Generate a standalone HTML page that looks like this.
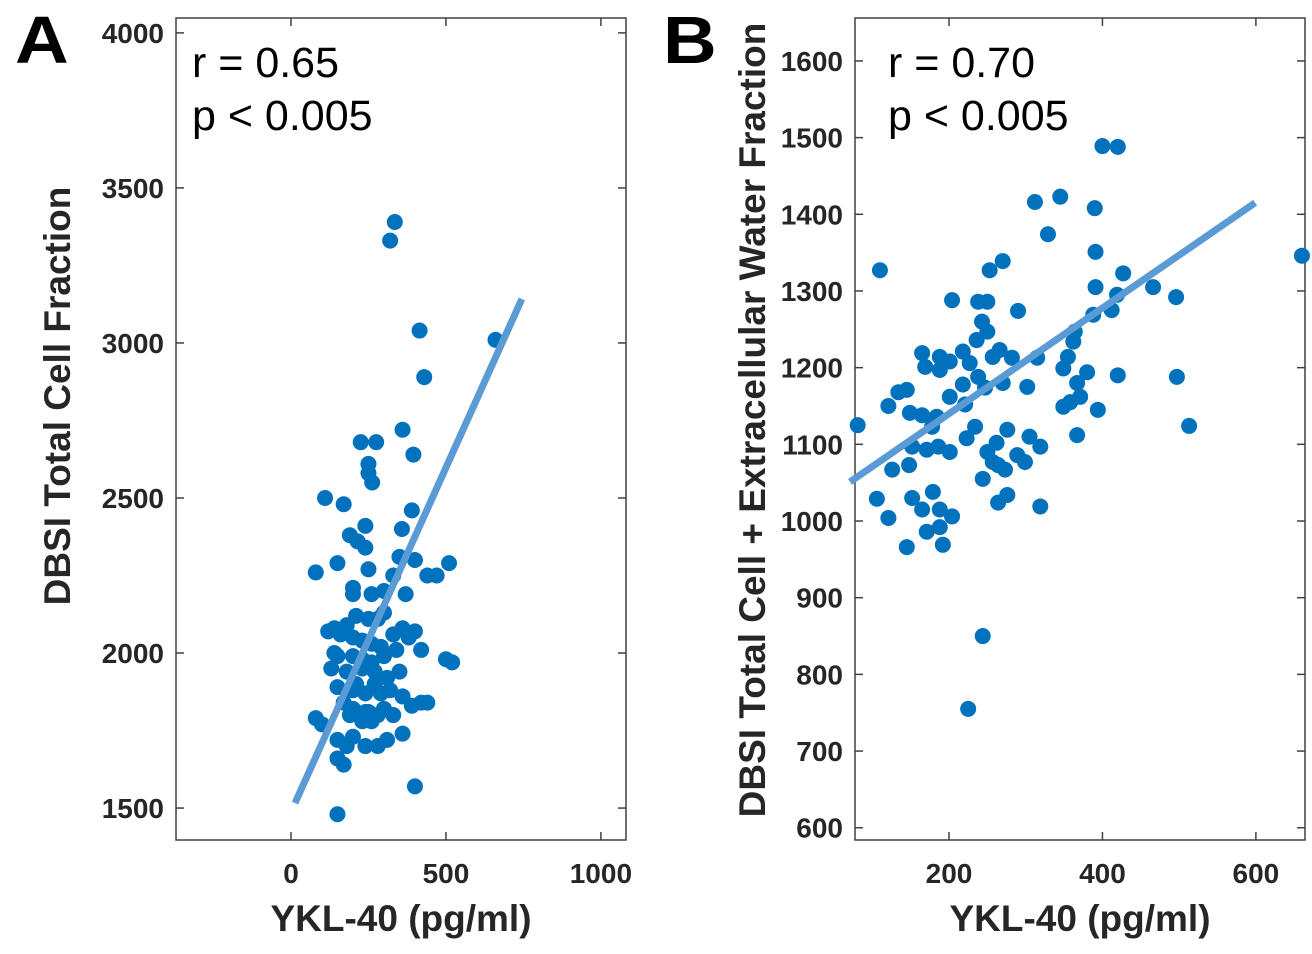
<!DOCTYPE html>
<html><head><meta charset="utf-8"><style>
body{margin:0;background:#fff;width:1312px;height:954px;overflow:hidden}
svg{display:block;font-family:"Liberation Sans",Arial,sans-serif}
</style></head><body>
<svg id="chart" width="1312" height="954" viewBox="0 0 1312 954"></svg>
<script>
const aX=[335,320,415,660,430,360,395,225,275,250,250,262,110,170,390,358,240,215,240,190,350,400,510,80,150,250,330,440,470,370,200,200,260,300,210,250,280,300,120,140,160,180,200,230,260,290,330,360,380,400,140,150,200,230,260,300,340,420,500,520,130,180,230,270,310,150,200,240,270,290,320,360,390,420,440,170,200,250,280,300,330,80,100,190,230,260,360,150,180,200,240,280,310,150,170,400,150,240,210,350];
const aY=[3390,3330,3040,3010,2890,2720,2640,2680,2680,2610,2580,2550,2500,2480,2460,2400,2410,2360,2340,2380,2310,2300,2290,2260,2290,2270,2250,2250,2250,2190,2210,2190,2190,2200,2120,2110,2110,2130,2070,2080,2060,2090,2050,2040,2030,2020,2060,2080,2050,2070,2000,1990,1990,1980,1970,1990,2010,2010,1980,1970,1950,1940,1950,1940,1920,1890,1880,1870,1900,1870,1880,1860,1830,1840,1840,1840,1820,1810,1800,1820,1800,1790,1770,1800,1780,1780,1740,1720,1700,1730,1700,1700,1720,1660,1640,1570,1480,1810,1900,1940];
const aFitX=[13,745];
const aFitY=[1516,3142];
const aXTicks=[0,500,1000];
const aYTicks=[1500,2000,2500,3000,3500,4000];
const bX=[400,420,312,345,390,329,110,660,391,253,270,427,391,466,496,204,238,250,290,419,412,388,243,250,236,364,362,165,188,218,266,257,282,315,355,201,169,188,227,238,349,380,420,497,270,302,367,247,218,134,145,201,371,358,221,349,121,149,165,184,394,81,513,178,234,367,276,223,305,262,319,152,171,186,201,250,289,299,257,264,273,126,148,244,106,152,179,165,188,204,121,276,264,319,188,171,145,192,244,225];
const bY=[1489,1488,1416,1423,1408,1374,1327,1346,1351,1327,1339,1323,1305,1305,1292,1288,1286,1286,1274,1295,1275,1269,1260,1247,1236,1247,1234,1219,1214,1221,1223,1214,1213,1213,1214,1208,1201,1197,1206,1188,1199,1194,1190,1188,1180,1175,1180,1174,1178,1168,1171,1162,1162,1155,1152,1149,1150,1141,1138,1136,1145,1125,1124,1123,1123,1112,1119,1108,1110,1102,1097,1097,1093,1097,1090,1090,1086,1077,1077,1073,1067,1067,1073,1055,1029,1030,1038,1015,1015,1006,1004,1034,1024,1019,992,986,966,969,850,755];
const bFitX=[71,599];
const bFitY=[1051,1415];
const bXTicks=[200,400,600];
const bYTicks=[600,700,800,900,1000,1100,1200,1300,1400,1500,1600];

const NS="http://www.w3.org/2000/svg";
const svg=document.getElementById('chart');
function mk(t,a,p){const e=document.createElementNS(NS,t);for(const k in a)e.setAttribute(k,a[k]);(p||svg).appendChild(e);return e;}

function panel(cfg){
  const g=mk('g',{});
  
  
  const L=cfg.box[0],T=cfg.box[1],R=cfg.box[2],B=cfg.box[3];
  const sx=v=>L+(v-cfg.xd[0])/(cfg.xd[1]-cfg.xd[0])*(R-L);
  const sy=v=>B-(v-cfg.yd[0])/(cfg.yd[1]-cfg.yd[0])*(B-T);
  const box=mk('rect',{x:L,y:T,width:R-L,height:B-T,fill:'#fff',stroke:'#404040','stroke-width':1.5},g);
  
  
  cfg.xt.forEach(v=>{
    const x=sx(v);
    mk('line',{x1:x,y1:B,x2:x,y2:B-8,stroke:'#404040','stroke-width':1.5},g);
    mk('line',{x1:x,y1:T,x2:x,y2:T+8,stroke:'#404040','stroke-width':1.5},g);
    const t=mk('text',{x:x,y:B+43,'text-anchor':'middle','font-size':28,'font-weight':'bold',fill:'#262626'},g);
    t.textContent=v;
    
    
  });
  cfg.yt.forEach(v=>{
    const y=sy(v);
    mk('line',{x1:L,y1:y,x2:L+8,y2:y,stroke:'#404040','stroke-width':1.5},g);
    mk('line',{x1:R,y1:y,x2:R-8,y2:y,stroke:'#404040','stroke-width':1.5},g);
    const t=mk('text',{x:L-12,y:y+10,'text-anchor':'end','font-size':28,'font-weight':'bold',fill:'#262626'},g);
    t.textContent=v;
    
    
  });
  cfg.px.forEach((v,i)=>{
    const c=mk('circle',{cx:sx(v),cy:sy(cfg.py[i]),r:8,fill:'#0072bd'},g);
    
    
  });
  const ln=mk('line',{x1:sx(cfg.fx[0]),y1:sy(cfg.fy[0]),x2:sx(cfg.fx[1]),y2:sy(cfg.fy[1]),stroke:'#5b9bd5','stroke-width':7},g);
  
  
  const r=mk('text',{x:L+cfg.ax,y:T+59,'font-size':43,fill:'#000'},g);
  r.textContent=cfg.r;
  
  
  const p=mk('text',{x:L+cfg.ax,y:T+112,'font-size':43,fill:'#000'},g);
  p.textContent='p < 0.005';
  
  
  const xl=mk('text',{x:(L+R)/2,y:B+91,'text-anchor':'middle','font-size':37,'font-weight':'bold',fill:'#262626'},g);
  xl.textContent='YKL-40 (pg/ml)';
  
  
  const yl=mk('text',{x:0,y:0,'text-anchor':'middle','font-size':37,'font-weight':'bold',fill:'#262626',transform:`translate(${cfg.ytx},${cfg.yty}) rotate(-90)`},g);
  yl.textContent=cfg.ytitle;
  
  
  const lt=mk('text',{x:0,y:0,'font-size':62,'font-weight':'bold',fill:'#000',transform:`translate(${cfg.lx},63) scale(1.2,1.08)`},g);
  lt.textContent=cfg.letter;
  
  
}
panel({name:'panel-a',box:[176,18,626,840],xd:[-371,1081],yd:[1397,4048],xt:aXTicks,yt:aYTicks,px:aX,py:aY,fx:aFitX,fy:aFitY,r:'r = 0.65',ax:16,ytitle:'DBSI Total Cell Fraction',ytx:70,yty:396,letter:'A',lx:15});
panel({name:'panel-b',box:[855,18,1305,840],xd:[77.5,664],yd:[584,1656],xt:bXTicks,yt:bYTicks,px:bX,py:bY,fx:bFitX,fy:bFitY,r:'r = 0.70',ax:33,ytitle:'DBSI Total Cell + Extracellular Water Fraction',ytx:765,yty:420,letter:'B',lx:663});
</script>
</body></html>
